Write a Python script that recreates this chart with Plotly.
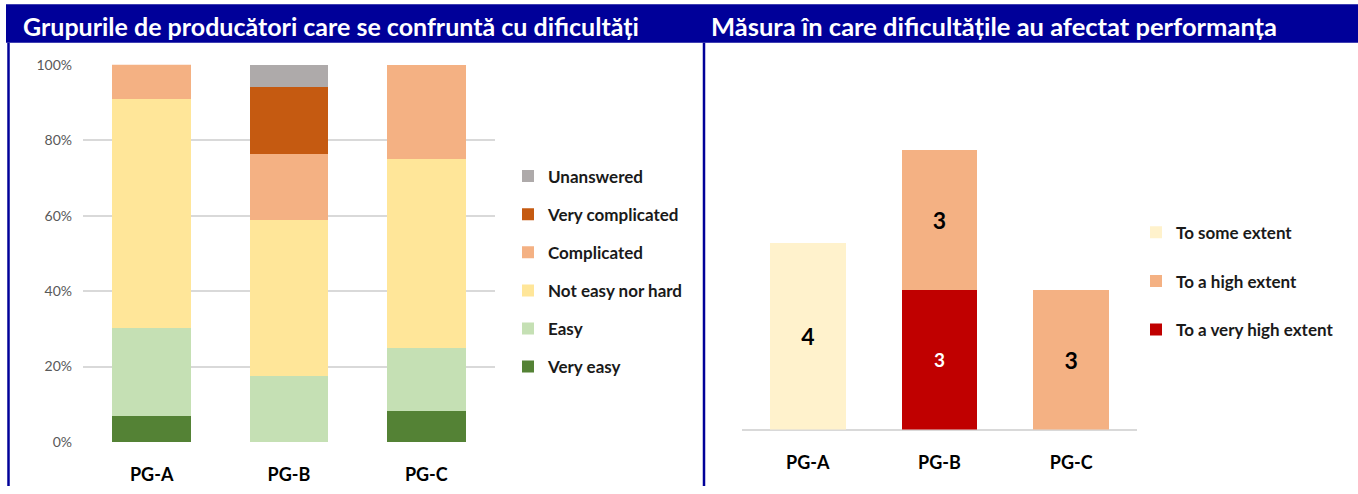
import plotly.graph_objects as go

W, H = 1358, 494

# ---------------- data ----------------
groups = ["PG-A", "PG-B", "PG-C"]

# left chart: share of respondents (%) per difficulty level
very_easy = [7.0, 0.0, 8.3]
easy = [23.3, 17.6, 16.7]
not_easy_nor_hard = [60.5, 41.2, 50.0]
complicated = [9.3, 17.6, 25.0]
very_complicated = [0.0, 17.6, 0.0]
unanswered = [0.0, 5.9, 0.0]

left_names = ["Very easy", "Easy", "Not easy nor hard", "Complicated",
              "Very complicated", "Unanswered"]
left_values = [very_easy, easy, not_easy_nor_hard, complicated,
               very_complicated, unanswered]
left_colors = ["#548235", "#C5E0B4", "#FFE699", "#F4B183", "#C55A11", "#AEAAAA"]

# right chart: counts
to_some_extent = [4, None, None]
to_a_very_high_extent = [None, 3, None]
to_a_high_extent = [None, 3, 3]

y_ticks = [0, 20, 40, 60, 80, 100]
y_tick_labels = ["0%", "20%", "40%", "60%", "80%", "100%"]

title_left = "Grupurile de producători care se confruntă cu dificultăți"
title_right = "Măsura în care dificultățile au afectat performanța"

FONT = "Lato"
BLUE = "#000099"

# vertical mapping observed between page pixels and the photographed picture
IMG_A, IMG_B = 9.4, 0.964


def px_x(p):
    return p / W


def py(Y):
    """paper fraction for a target picture row Y"""
    return 1 - ((Y - IMG_A) / IMG_B) / H


fig = go.Figure()

n_left = len(left_names)
for i, (name, vals, col) in enumerate(zip(left_names, left_values, left_colors)):
    fig.add_trace(go.Bar(
        x=groups, y=vals, name=name, marker=dict(color=col, line=dict(width=0)),
        xaxis="x", yaxis="y", legend="legend", legendgroup=name,
        legendrank=n_left - i,
        hoverinfo="x+y+name",
    ))

right_traces = [
    ("To some extent", to_some_extent, "#FFF2CC", "#000000", 23, 1),
    ("To a very high extent", to_a_very_high_extent, "#C00000", "#FFFFFF", 19, 3),
    ("To a high extent", to_a_high_extent, "#F4B183", "#000000", 23, 2),
]
for name, vals, col, tcol, tsize, rank in right_traces:
    fig.add_trace(go.Bar(
        x=groups, y=vals, name=name, marker=dict(color=col, line=dict(width=0)),
        xaxis="x2", yaxis="y2", legend="legend2", legendgroup=name,
        legendrank=rank,
        texttemplate="<b>%{y}</b>", textposition="inside", insidetextanchor="middle",
        textangle=0, constraintext="none",
        textfont=dict(family=FONT, size=tsize, color=tcol),
    ))

fig.update_layout(
    width=W, height=H,
    margin=dict(l=0, r=0, t=0, b=0),
    paper_bgcolor="white", plot_bgcolor="white",
    barmode="stack", bargap=0.425,
    font=dict(family=FONT),
    showlegend=True,
    xaxis=dict(domain=[px_x(83), px_x(495)], anchor="y",
               showgrid=False, zeroline=False, showline=False, ticks="",
               tickfont=dict(family=FONT, size=18, color="#000000", weight="bold"),
               ticklabelstandoff=20),
    yaxis=dict(domain=[py(441.7), py(65)], anchor="x", range=[0, 100],
               tickmode="array", tickvals=y_ticks, ticktext=y_tick_labels,
               showgrid=True, gridcolor="#D9D9D9", gridwidth=2,
               zeroline=False, showline=False, ticks="",
               tickfont=dict(family=FONT, size=14, color="#595959"),
               ticklabelstandoff=10),
    xaxis2=dict(domain=[px_x(742), px_x(1137)], anchor="y2",
                showgrid=False, zeroline=False, showline=False, ticks="",
                tickfont=dict(family=FONT, size=18, color="#000000", weight="bold"),
                ticklabelstandoff=20),
    yaxis2=dict(domain=[py(429.3), py(103.8)], anchor="x2", range=[0, 7],
                showgrid=False, showticklabels=False, ticks="",
                zeroline=True, zerolinecolor="#D9D9D9", zerolinewidth=2,
                showline=False),
    legend=dict(x=px_x(508), y=py(158.7), xanchor="left", yanchor="top",
                traceorder="grouped", tracegroupgap=13,
                font=dict(family=FONT, size=17, color="#1A1A1A", weight="bold"),
                bgcolor="rgba(0,0,0,0)", itemclick=False),
    legend2=dict(x=px_x(1136), y=py(214.7), xanchor="left", yanchor="top",
                 traceorder="grouped", tracegroupgap=23.6,
                 font=dict(family=FONT, size=17, color="#1A1A1A", weight="bold"),
                 bgcolor="rgba(0,0,0,0)", itemclick=False),
)

# header band and panel borders
fig.add_shape(type="rect", xref="paper", yref="paper",
              x0=px_x(6), x1=1.0, y0=py(43), y1=1.01,
              fillcolor=BLUE, line=dict(width=0), layer="below")
for xv in (8.5, 704):
    fig.add_shape(type="line", xref="paper", yref="paper",
                  x0=px_x(xv), x1=px_x(xv), y0=0, y1=py(43),
                  line=dict(color=BLUE, width=2.5))

fig.add_annotation(text=title_left, xref="paper", yref="paper",
                   x=px_x(21), y=py(26), xanchor="left", yanchor="middle",
                   showarrow=False,
                   font=dict(family=FONT, size=25, color="white", weight="bold"))
fig.add_annotation(text=title_right, xref="paper", yref="paper",
                   x=px_x(709), y=py(26), xanchor="left", yanchor="middle",
                   showarrow=False,
                   font=dict(family=FONT, size=25.5, color="white", weight="bold"))

fig.write_html(
    "out.html",
    config={"displayModeBar": False},
    post_script=(
        "var gd=document.getElementById('{plot_id}');"
        "gd.style.position='fixed';gd.style.top='0px';gd.style.left='0px';"
        "document.body.style.margin='0';document.body.style.padding='0';"
        "document.body.style.overflow='hidden';"
        "document.documentElement.style.overflow='hidden';"
    ),
)
